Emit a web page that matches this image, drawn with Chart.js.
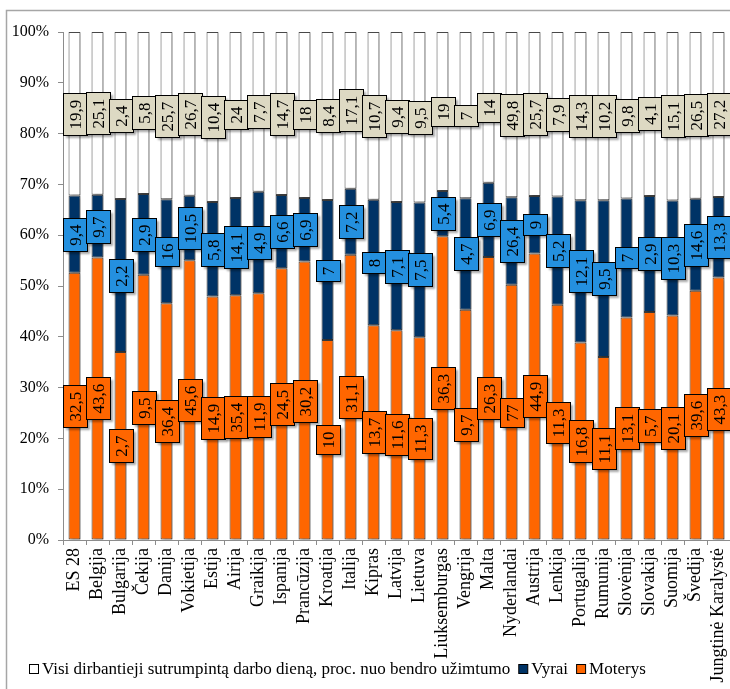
<!DOCTYPE html>
<html lang="lt">
<head>
<meta charset="utf-8">
<title>Sutrumpinta darbo diena</title>
<script src="https://cdn.jsdelivr.net/npm/chart.js@4.4.0/dist/chart.umd.min.js"></script>
<style>
    html, body { margin: 0; padding: 0; background: #fff; }
    #wrap { width: 730px; height: 689px; }
</style>
</head>
<body>
<div id="wrap"><canvas id="chart" width="730" height="689"></canvas></div>
<script>
// Data (values shown in the boxes)
const countries = [
    'ES 28', 'Belgija', 'Bulgarija', 'Čekija', 'Danija', 'Vokietija', 'Estija', 'Airija',
    'Graikija', 'Ispanija', 'Prancūzija', 'Kroatija', 'Italija', 'Kipras', 'Latvija',
    'Lietuva', 'Liuksemburgas', 'Vengrija', 'Malta', 'Nyderlandai', 'Austrija', 'Lenkija',
    'Portugalija', 'Rumunija', 'Slovėnija', 'Slovakija', 'Suomija', 'Švedija', 'Jungtinė Karalystė'
];
const women = [32.5, 43.6, 2.7, 9.5, 36.4, 45.6, 14.9, 35.4, 11.9, 24.5, 30.2, 10, 31.1, 13.7, 11.6,
    11.3, 36.3, 9.7, 26.3, 77, 44.9, 11.3, 16.8, 11.1, 13.1, 5.7, 20.1, 39.6, 43.3];
const men = [9.4, 9.7, 2.2, 2.9, 16, 10.5, 5.8, 14.1, 4.9, 6.6, 6.9, 7, 7.2, 8, 7.1,
    7.5, 5.4, 4.7, 6.9, 26.4, 9, 5.2, 12.1, 9.5, 7, 2.9, 10.3, 14.6, 13.3];
const allWorkers = [19.9, 25.1, 2.4, 5.8, 25.7, 26.7, 10.4, 24, 7.7, 14.7, 18, 8.4, 17.1, 10.7, 9.4,
    9.5, 19, 7, 14, 49.8, 25.7, 7.9, 14.3, 10.2, 9.8, 4.1, 15.1, 26.5, 27.2];
const yTicks = [0, 10, 20, 30, 40, 50, 60, 70, 80, 90, 100];

const FONT = '"Liberation Serif", "Times New Roman", serif';

// 100% stacked: each segment is its share of the three values
const totals = countries.map((c, i) => women[i] + men[i] + allWorkers[i]);
const toShare = arr => arr.map((v, i) => v / totals[i] * 100);
const fmt = v => String(v).replace('.', ',');

// outer frame of the figure (left + top edges)
const frame = {
    id: 'frame',
    beforeDraw(chart) {
        const ctx = chart.ctx;
        ctx.save();
        ctx.strokeStyle = '#a6a6a6';
        ctx.lineWidth = 1.5;
        ctx.beginPath();
        ctx.moveTo(6.5, chart.height);
        ctx.lineTo(6.5, 10.5);
        ctx.lineTo(chart.width, 10.5);
        ctx.stroke();
        ctx.restore();
    }
};

// soft shadow to the right of the bars
const barShadow = {
    id: 'barShadow',
    beforeDatasetDraw(chart) {
        const ctx = chart.ctx;
        ctx.save();
        ctx.shadowColor = 'rgba(0,0,0,0.3)';
        ctx.shadowBlur = 2;
        ctx.shadowOffsetX = 2;
        ctx.shadowOffsetY = 1;
    },
    afterDatasetDraw(chart) {
        chart.ctx.restore();
    }
};

// boxed, rotated value labels in the middle of each segment
const boxLabels = {
    id: 'boxLabels',
    afterDatasetsDraw(chart) {
        const ctx = chart.ctx;
        ctx.save();
        ctx.font = '17px ' + FONT;
        chart.data.datasets.forEach((ds, di) => {
            const meta = chart.getDatasetMeta(di);
            meta.data.forEach((bar, i) => {
                const txt = fmt(ds.values[i]);
                const tw = ctx.measureText(txt).width;
                const w = 24, h = Math.round(tw + 12);
                const x = Math.round(bar.x - w / 2) + 0.5;
                const y = Math.round((bar.y + bar.base) / 2 - h / 2) + 0.5;

                ctx.shadowColor = 'rgba(0,0,0,0.35)';
                ctx.shadowBlur = 2;
                ctx.shadowOffsetX = 2;
                ctx.shadowOffsetY = 2;
                ctx.fillStyle = ds.labelColor;
                ctx.fillRect(x, y, w, h);
                ctx.shadowColor = 'transparent';
                ctx.strokeStyle = '#000';
                ctx.lineWidth = 1;
                ctx.strokeRect(x, y, w, h);

                ctx.save();
                ctx.translate(x + w / 2 + 1, y + h / 2);
                ctx.rotate(-Math.PI / 2);
                ctx.fillStyle = '#000';
                ctx.textAlign = 'center';
                ctx.textBaseline = 'middle';
                ctx.fillText(txt, 0, 0);
                ctx.restore();
            });
        });
        ctx.restore();
    }
};

// one-row legend under the axis labels, top series first
const legendRow = {
    id: 'legendRow',
    afterDraw(chart) {
        const ctx = chart.ctx;
        const y = 669;
        let x = 29;
        ctx.save();
        ctx.font = '17px ' + FONT;
        ctx.textBaseline = 'middle';
        ctx.lineWidth = 1;
        chart.data.datasets.slice().reverse().forEach(ds => {
            ctx.fillStyle = ds.backgroundColor;
            ctx.fillRect(x + 0.5, y - 4.5, 9, 9);
            ctx.strokeStyle = '#000';
            ctx.strokeRect(x + 0.5, y - 4.5, 9, 9);
            ctx.fillStyle = '#000';
            ctx.fillText(ds.label, x + 13, y + 1);
            x += 13 + ctx.measureText(ds.label).width + 8;
        });
        ctx.restore();
    }
};

const ctx = document.getElementById('chart').getContext('2d');
const chart = new Chart(ctx, {
    type: 'bar',
    data: {
        labels: countries,
        datasets: [
            {
                label: 'Moterys',
                data: toShare(women),
                values: women,
                backgroundColor: '#ff6600',
                borderColor: '#3a3a3a',
                labelColor: '#ff6600'
            },
            {
                label: 'Vyrai',
                data: toShare(men),
                values: men,
                backgroundColor: '#003366',
                borderColor: '#3a3a3a',
                labelColor: '#2490df'
            },
            {
                label: 'Visi dirbantieji sutrumpintą darbo dieną, proc. nuo bendro užimtumo',
                data: toShare(allWorkers),
                values: allWorkers,
                backgroundColor: '#ffffff',
                borderColor: '#4a4a4a',
                labelColor: '#ddd9c3'
            }
        ]
    },
    options: {
        responsive: false,
        devicePixelRatio: 1,
        animation: false,
        datasets: {
            bar: {
                borderWidth: 1,
                borderSkipped: false,
                barPercentage: 0.52,
                categoryPercentage: 1
            }
        },
        layout: { padding: { top: 32, left: 6, right: 0, bottom: 0 } },
        plugins: {
            tooltip: { enabled: false },
            legend: { display: false }
        },
        scales: {
            x: {
                stacked: true,
                afterFit: s => { s.height = 149; s.paddingLeft = 0; s.paddingRight = 0; },
                border: { color: '#8c8c8c' },
                grid: { drawOnChartArea: false, tickLength: 5, color: '#8c8c8c', offset: true },
                ticks: {
                    autoSkip: false,
                    maxRotation: 90,
                    minRotation: 90,
                    padding: 3,
                    color: '#000',
                    font: { family: FONT, size: 18 }
                }
            },
            y: {
                stacked: true,
                min: 0,
                max: 100,
                afterFit: s => { s.width = 57; },
                afterBuildTicks: s => { s.ticks = yTicks.map(v => ({ value: v })); },
                border: { color: '#8c8c8c' },
                grid: { drawOnChartArea: false, tickLength: 5, color: '#8c8c8c' },
                ticks: {
                    padding: 9,
                    color: '#000',
                    font: { family: FONT, size: 16 },
                    callback: v => v + '%'
                }
            }
        }
    },
    plugins: [frame, barShadow, boxLabels, legendRow]
});
</script>
</body>
</html>
